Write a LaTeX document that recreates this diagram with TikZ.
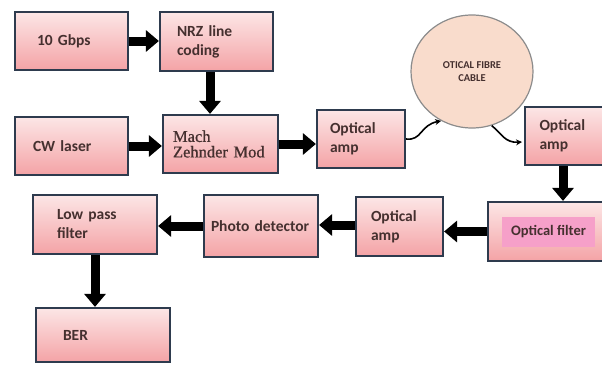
\documentclass[tikz,border=0pt]{standalone}
\usepackage{fontspec}
\setmainfont{Carlito}
\newfontfamily\mzfont[FakeBold=0.8]{Liberation Serif}
\usetikzlibrary{arrows.meta,shapes.geometric}
\definecolor{boxtop}{HTML}{FCE6E6}
\definecolor{boxbot}{HTML}{F4A3A6}
\definecolor{boxline}{HTML}{2E3B4E}
\definecolor{txt}{HTML}{45302F}
\definecolor{cablefill}{HTML}{F9DCCC}
\definecolor{cableline}{HTML}{8C8C8C}
\definecolor{filterpink}{HTML}{F6A0C9}
\tikzset{
  blk/.style={draw=boxline, line width=2.2pt, top color=boxtop, bottom color=boxbot,
    align=left, text=txt, font=\bfseries\fontsize{15.5}{19}\selectfont, inner ysep=2pt},
  fat/.style={line width=9pt, -{Triangle[width=21pt,length=13pt]}},
  wavy/.style={line width=1.6pt, -{Stealth[length=6pt,width=6pt]}},
}
\begin{document}
\begin{tikzpicture}[x=1pt,y=-1pt]
\useasboundingbox (0,0) rectangle (602,364);
\fill[white] (0,0) rectangle (602,364);

\node[blk, minimum width=113pt, minimum height=58pt, text width=69pt, inner xsep=22pt] (gbps) at (71.5,41) {10 Gbps};
\node[blk, minimum width=113pt, minimum height=59pt, text width=79pt, inner xsep=17pt] (nrz) at (216.5,41.5) {NRZ line\\coding};
\node[blk, minimum width=113pt, minimum height=58pt, text width=77pt, inner xsep=18pt] (cw) at (71.5,146) {CW laser};
\node[blk, minimum width=115pt, minimum height=58pt, text width=95pt, inner xsep=10pt, font=\mzfont\fontsize{16.5}{15.5}\selectfont] (mzm) at (220.5,144) {Mach\\Zehnder Mod};
\node[blk, minimum width=88pt, minimum height=58pt, text width=62pt, inner xsep=13pt] (oa1) at (361,139) {Optical\\amp};
\node[draw=cableline, line width=1.2pt, fill=cablefill, ellipse, minimum width=122pt, minimum height=113pt,
  align=center, text=txt, font=\bfseries\fontsize{10.5}{13.5}\selectfont] (cable) at (472,71.5) {\raisebox{-2pt}{OTICAL FIBRE}\\\raisebox{-2pt}{CABLE}};
\node[blk, minimum width=79pt, minimum height=58pt, text width=50pt, inner xsep=14.5pt] (oa2) at (564.5,136) {Optical\\amp};
\node[blk, minimum width=116pt, minimum height=59pt] (filter) at (546,231.5) {};
\node[fill=filterpink, minimum width=93pt, minimum height=30pt, text=txt, font=\bfseries\fontsize{14.5}{17}\selectfont] (filterin) at (548.5,232) {Optical filter};
\node[blk, minimum width=87pt, minimum height=59pt, text width=57pt, inner xsep=15pt] (oa3) at (399.5,226.5) {Optical\\amp};
\node[blk, minimum width=114pt, minimum height=62pt, text width=100pt, inner xsep=7pt] (pd) at (261,226) {Photo detector};
\node[blk, minimum width=124pt, minimum height=59pt, text width=76pt, inner xsep=24pt] (lpf) at (95,224.5) {Low pass\\filter};
\node[blk, minimum width=134pt, minimum height=54pt, text width=80pt, inner xsep=27pt] (ber) at (103,335) {BER};

\draw[fat] (gbps.east) -- (gbps.east -| nrz.west);
\draw[fat] ([xshift=-6.5pt]nrz.south) -- ([xshift=-6.5pt]nrz.south |- mzm.north);
\draw[fat] (cw.east) -- (cw.east -| mzm.west);
\draw[fat] (mzm.east) -- (mzm.east -| oa1.west);
\draw[wavy] (oa1.east) .. controls (422,141) and (420,125) .. (cable.238);
\draw[wavy] (cable.290) .. controls (502,134) and (505,143) .. (522,142) coordinate (oa2in);
\draw[fat] ([xshift=-1.5pt]oa2.south) -- ([xshift=-1.5pt]oa2.south |- filter.north);
\draw[fat] (filter.west) -- (filter.west -| oa3.east);
\draw[fat] ([yshift=1.5pt]oa3.west) -- ([yshift=1.5pt]oa3.west -| pd.east);
\draw[fat] (pd.west) -- (pd.west -| lpf.east);
\draw[fat] (lpf.south) -- (lpf.south |- ber.north);
\end{tikzpicture}
\end{document}
